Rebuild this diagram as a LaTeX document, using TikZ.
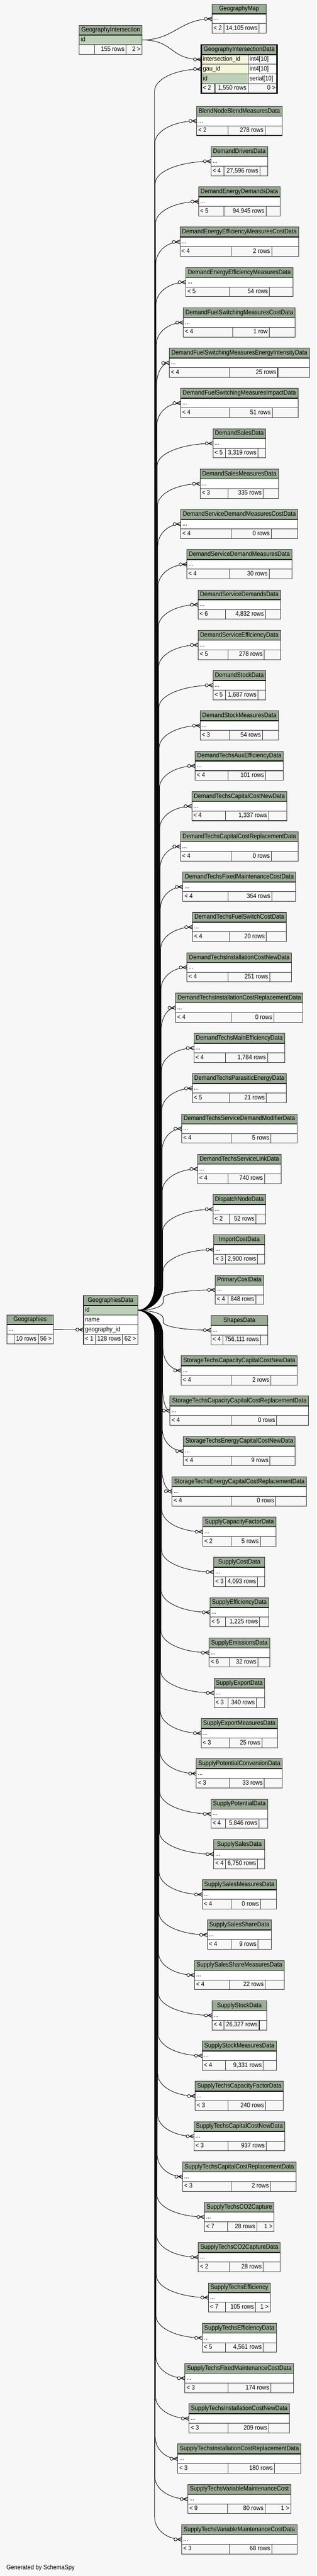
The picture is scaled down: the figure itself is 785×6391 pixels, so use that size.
\documentclass[tikz,border=0pt]{standalone}
\usepackage{fontspec}
\setmainfont{Liberation Sans}[FakeStretch=0.9]
\usetikzlibrary{decorations.markings}
\definecolor{pagebg}{HTML}{F7F7F7}
\definecolor{headbg}{HTML}{9BAB96}
\definecolor{keybg}{HTML}{BED1B8}
\definecolor{indexbg}{HTML}{F4F7DA}
\newcommand\tabfont{\fontsize{16}{19}\selectfont}
\tikzstyle{cell}=[draw=black!80, line width=1.3pt, outer sep=0pt, inner xsep=4pt, inner ysep=0pt, minimum height=24pt, text height=11.6pt, text depth=3.4pt, font=\tabfont, anchor=north west]
\tikzstyle{tabhead}=[cell, fill=headbg, minimum height=24.5pt]
\tikzstyle{tabbody}=[cell, fill=white]
\tikzstyle{tabkey}=[cell, fill=keybg]
\tikzstyle{tabindex}=[cell, fill=indexbg]
\tikzstyle{tabfoot}=[cell, fill=pagebg]
\tikzstyle{fk}=[line width=1.1pt, decoration={markings, mark=at position -0.3pt with {\draw[line width=1.1pt,fill=white] (-15pt,0pt) circle (3.8pt); \draw[line width=1.4pt] (-11pt,0pt) -- (0pt,4.5pt) (-11pt,0pt) -- (0pt,-4.5pt);}}, postaction=decorate]
\newcommand\textwd[2]{\setbox0=\hbox{\pgfinterruptpicture\normalfont\tabfont #2\endpgfinterruptpicture}\edef#1{\the\wd0}}
\newcommand\lcell[2]{\hbox to #1pt{#2\hfil}}
\newcommand\rcell[2]{\hbox to #1pt{\hfil #2}}
\newcommand\ccell[2]{\hbox to #1pt{\hfil #2\hfil}}
\newcommand\tabwidth[4]{%
  \textwd\hdw{#1}\textwd\lw{#2}\textwd\mw{#3}\textwd\rw{#4}%
  \pgfmathsetmacro\natL{\lw>0 ? \lw+9 : 18}%
  \pgfmathsetmacro\natM{\mw+9}%
  \pgfmathsetmacro\natR{\rw>0 ? \rw+9 : 18}%
  \pgfmathsetmacro\tabW{max(\hdw+10,\natL+\natM+\natR)}%
  \pgfmathsetmacro\tabX{\tabW-\natL-\natM-\natR}%
  \pgfmathsetmacro\cellL{\natL+\tabX/2-8}%
  \pgfmathsetmacro\cellM{\natM+\tabX/4-8}%
  \pgfmathsetmacro\cellR{\natR+\tabX/4-8}%
}
\newcommand\tabfooter[5]{%
  \node[tabfoot] (#1-l) at (#2.south west) {\lcell{\cellL}{#3}};
  \node[tabfoot] (#1-m) at (#1-l.north east) {\rcell{\cellM}{#4}};
  \node[tabfoot] (#1-r) at (#1-m.north east) {\rcell{\cellR}{#5}};
}
\newcommand\dbtablex[9]{%
  \tabwidth{#2}{#7}{#8}{#9}%
  \pgfmathsetmacro\tabLeft{#3-\tabW/2}\pgfmathsetmacro\twH{\tabW-8}%
  \node[tabhead] (#1) at (\tabLeft,#4) {\ccell{\twH}{#2}};
  \node[#6] (#1-b) at (#1.south west) {\lcell{\twH}{#5}};
  \tabfooter{#1}{#1-b}{#7}{#8}{#9}%
  \draw[line width=2pt] (#1.south west) -- (#1.south east);
}
\newcommand\geolink[3]{%
  \pgfmathsetmacro\lkdy{#2-3250.9}%
  \pgfmathsetmacro\lksg{\lkdy<0 ? -1 : 1}%
  \pgfmathsetmacro\lkad{abs(\lkdy)}%
  \pgfmathsetmacro\lkx{383+22*(1-\lkad/3100)}%
  \pgfmathsetmacro\lka{min(60,\lkad*0.4)}%
  \pgfmathsetmacro\lkb{min(55,\lkad*0.4)}%
  \pgfmathsetmacro\lkya{3250.9+\lksg*\lka}%
  \pgfmathsetmacro\lkyb{#2-\lksg*\lkb}%
  \pgfmathsetmacro\lkyac{3250.9+\lksg*\lka*0.45}%
  \pgfmathsetmacro\lkybc{#2-\lksg*\lkb*0.45}%
  \pgfmathsetmacro\lkxs{342.4+0.55*(\lkx-342.4)}%
  \pgfmathsetmacro\lkxt{#3-0.55*(#3-\lkx)}%
  \draw[fk] (gd-id.east) .. controls (\lkxs,3250.9) and (\lkx,\lkyac) .. (\lkx,\lkya) -- (\lkx,\lkyb) .. controls (\lkx,\lkybc) and (\lkxt,#2) .. (#1);
}
\newcommand\datatable[6]{%
  \dbtablex{#1}{#2}{593.5}{#3}{...}{tabbody}{#4}{#5}{#6}%
  \pgfmathsetmacro\tgtY{#3+36.5}\pgfmathsetmacro\tgtX{593.5-\tabW/2}%
  \geolink{#1-b.west}{\tgtY}{\tgtX}%
}

\begin{document}
\begin{tikzpicture}[x=1pt,y=-1pt,shift={(0,-3195.5)}]
  \fill[pagebg] (0,0) rectangle (785,6391);
  \useasboundingbox (0,0) rectangle (785,6391);

  \dbtablex{geo}{Geographies}{74.6}{3262}{...}{tabbody}{}{10 rows}{56 >}
  \tabwidth{GeographiesData}{< 1}{128 rows}{62 >}
  \pgfmathsetmacro\twH{\tabW-8}
  \node[tabhead] (gd) at ({274.2-\tabW/2},3214.4) {\ccell{\twH}{GeographiesData}};
  \node[tabkey] (gd-id) at (gd.south west) {\lcell{\twH}{id}};
  \node[tabbody] (gd-name) at (gd-id.south west) {\lcell{\twH}{name}};
  \node[tabbody] (gd-gid) at (gd-name.south west) {\lcell{\twH}{geography\_id}};
  \tabfooter{gd}{gd-gid}{< 1}{128 rows}{62 >}
  \draw[line width=2pt] (gd.south west) -- (gd.south east);
  \draw[fk] (geo-b.east) -- (gd-gid.west);

  \dbtablex{gi}{GeographyIntersection}{274.5}{62.7}{id}{tabkey}{}{155 rows}{2 >}
  \dbtablex{gmap}{GeographyMap}{593}{10.3}{...}{tabbody}{< 2}{14,105 rows}{}

  \tabwidth{GeographyIntersectionData}{< 2}{1,550 rows}{0 >}
  \pgfmathsetmacro\gidW{max(188,\tabW)}
  \pgfmathsetmacro\gidLeft{593-\gidW/2}
  \pgfmathsetmacro\twH{\gidW-8}
  \pgfmathsetmacro\twN{\gidW-80}
  \pgfmathsetmacro\twM{\gidW-114}
  \node[tabhead] (gid) at (\gidLeft,111) {\ccell{\twH}{GeographyIntersectionData}};
  \node[tabindex] (gid-ii) at (gid.south west) {\lcell{\twN}{intersection\_id}};
  \node[tabbody] (gid-iit) at (gid-ii.north east) {\lcell{64}{int4[10]}};
  \node[tabindex] (gid-gau) at (gid-ii.south west) {\lcell{\twN}{gau\_id}};
  \node[tabbody] (gid-gaut) at (gid-gau.north east) {\lcell{64}{int4[10]}};
  \node[tabkey] (gid-id) at (gid-gau.south west) {\lcell{\twN}{id}};
  \node[tabbody] (gid-idt) at (gid-id.north east) {\lcell{64}{serial[10]}};
  \node[tabfoot] (gid-l) at (gid-id.south west) {\lcell{26}{< 2}};
  \node[tabfoot] (gid-m) at (gid-l.north east) {\rcell{\twM}{1,550 rows}};
  \node[tabfoot] (gid-r) at (gid-m.north east) {\rcell{64}{0 >}};
  \draw[line width=2pt] (gid.south west) -- (gid.south east);
  \draw[line width=3pt] (gid.north west) rectangle (gid-r.south east);

  \draw[fk] (gi-b.east) .. controls +(80,0) and +(-80,0) .. (gmap-b.west);
  \draw[fk] (gi-b.east) .. controls +(80,0) and +(-80,0) .. (gid-ii.west);
  \geolink{gid-gau.west}{171.5}{\gidLeft}

  \datatable{blend}{BlendNodeBlendMeasuresData}{263.7}{< 2}{278 rows}{}
  \datatable{drivers}{DemandDriversData}{363.7}{< 4}{27,596 rows}{}
  \datatable{endem}{DemandEnergyDemandsData}{463.7}{< 5}{94,945 rows}{}
  \datatable{eemcost}{DemandEnergyEfficiencyMeasuresCostData}{563.7}{< 4}{2 rows}{}
  \datatable{eem}{DemandEnergyEfficiencyMeasuresData}{663.7}{< 5}{54 rows}{}
  \datatable{fsmcost}{DemandFuelSwitchingMeasuresCostData}{763.7}{< 4}{1 row}{}
  \datatable{fsmint}{DemandFuelSwitchingMeasuresEnergyIntensityData}{863.7}{< 4}{25 rows}{}
  \datatable{fsmimp}{DemandFuelSwitchingMeasuresImpactData}{963.7}{< 4}{51 rows}{}
  \datatable{dsales}{DemandSalesData}{1063.7}{< 5}{3,319 rows}{}
  \datatable{dsalesm}{DemandSalesMeasuresData}{1163.7}{< 3}{335 rows}{}
  \datatable{sdmcost}{DemandServiceDemandMeasuresCostData}{1263.7}{< 4}{0 rows}{}
  \datatable{sdm}{DemandServiceDemandMeasuresData}{1363.7}{< 4}{30 rows}{}
  \datatable{servdem}{DemandServiceDemandsData}{1463.7}{< 6}{4,832 rows}{}
  \datatable{serveff}{DemandServiceEfficiencyData}{1563.7}{< 5}{278 rows}{}
  \datatable{dstock}{DemandStockData}{1663.7}{< 5}{1,687 rows}{}
  \datatable{dstockm}{DemandStockMeasuresData}{1763.7}{< 3}{54 rows}{}
  \datatable{dtaux}{DemandTechsAuxEfficiencyData}{1863.7}{< 4}{101 rows}{}
  \datatable{dtcapnew}{DemandTechsCapitalCostNewData}{1963.7}{< 4}{1,337 rows}{}
  \datatable{dtcaprep}{DemandTechsCapitalCostReplacementData}{2063.7}{< 4}{0 rows}{}
  \datatable{dtfix}{DemandTechsFixedMaintenanceCostData}{2163.7}{< 4}{364 rows}{}
  \datatable{dtfuel}{DemandTechsFuelSwitchCostData}{2263.7}{< 4}{20 rows}{}
  \datatable{dtinstnew}{DemandTechsInstallationCostNewData}{2363.7}{< 4}{251 rows}{}
  \datatable{dtinstrep}{DemandTechsInstallationCostReplacementData}{2463.7}{< 4}{0 rows}{}
  \datatable{dtmain}{DemandTechsMainEfficiencyData}{2563.7}{< 4}{1,784 rows}{}
  \datatable{dtpara}{DemandTechsParasiticEnergyData}{2663.7}{< 5}{21 rows}{}
  \datatable{dtsdmod}{DemandTechsServiceDemandModifierData}{2763.7}{< 4}{5 rows}{}
  \datatable{dtlink}{DemandTechsServiceLinkData}{2863.7}{< 4}{740 rows}{}
  \datatable{dispatch}{DispatchNodeData}{2963.7}{< 2}{52 rows}{}
  \datatable{import}{ImportCostData}{3063.7}{< 3}{2,900 rows}{}
  \datatable{primary}{PrimaryCostData}{3163.7}{< 4}{848 rows}{}
  \datatable{shapes}{ShapesData}{3263.7}{< 4}{756,111 rows}{}
  \datatable{stocapnew}{StorageTechsCapacityCapitalCostNewData}{3363.7}{< 4}{2 rows}{}
  \datatable{stocaprep}{StorageTechsCapacityCapitalCostReplacementData}{3463.7}{< 4}{0 rows}{}
  \datatable{stoennew}{StorageTechsEnergyCapitalCostNewData}{3563.7}{< 4}{9 rows}{}
  \datatable{stoenrep}{StorageTechsEnergyCapitalCostReplacementData}{3663.7}{< 4}{0 rows}{}
  \datatable{capfac}{SupplyCapacityFactorData}{3763.7}{< 2}{5 rows}{}
  \datatable{scost}{SupplyCostData}{3863.7}{< 3}{4,093 rows}{}
  \datatable{seff}{SupplyEfficiencyData}{3963.7}{< 5}{1,225 rows}{}
  \datatable{semis}{SupplyEmissionsData}{4063.7}{< 6}{32 rows}{}
  \datatable{sexp}{SupplyExportData}{4163.7}{< 3}{340 rows}{}
  \datatable{sexpm}{SupplyExportMeasuresData}{4263.7}{< 3}{25 rows}{}
  \datatable{spotconv}{SupplyPotentialConversionData}{4363.7}{< 3}{33 rows}{}
  \datatable{spot}{SupplyPotentialData}{4463.7}{< 4}{5,846 rows}{}
  \datatable{ssales}{SupplySalesData}{4563.7}{< 4}{6,750 rows}{}
  \datatable{ssalesm}{SupplySalesMeasuresData}{4663.7}{< 4}{0 rows}{}
  \datatable{sshare}{SupplySalesShareData}{4763.7}{< 4}{9 rows}{}
  \datatable{ssharem}{SupplySalesShareMeasuresData}{4863.7}{< 4}{22 rows}{}
  \datatable{sstock}{SupplyStockData}{4963.7}{< 4}{26,327 rows}{}
  \datatable{sstockm}{SupplyStockMeasuresData}{5063.7}{< 4}{9,331 rows}{}
  \datatable{stcapfac}{SupplyTechsCapacityFactorData}{5163.7}{< 3}{240 rows}{}
  \datatable{stcapnew}{SupplyTechsCapitalCostNewData}{5263.7}{< 3}{937 rows}{}
  \datatable{stcaprep}{SupplyTechsCapitalCostReplacementData}{5363.7}{< 3}{2 rows}{}
  \datatable{stco2}{SupplyTechsCO2Capture}{5463.7}{< 7}{28 rows}{1 >}
  \datatable{stco2d}{SupplyTechsCO2CaptureData}{5563.7}{< 2}{28 rows}{}
  \datatable{steff}{SupplyTechsEfficiency}{5663.7}{< 7}{105 rows}{1 >}
  \datatable{steffd}{SupplyTechsEfficiencyData}{5763.7}{< 5}{4,561 rows}{}
  \datatable{stfix}{SupplyTechsFixedMaintenanceCostData}{5863.7}{< 3}{174 rows}{}
  \datatable{stinstnew}{SupplyTechsInstallationCostNewData}{5963.7}{< 3}{209 rows}{}
  \datatable{stinstrep}{SupplyTechsInstallationCostReplacementData}{6063.7}{< 3}{180 rows}{}
  \datatable{stvar}{SupplyTechsVariableMaintenanceCost}{6163.7}{< 9}{80 rows}{1 >}
  \datatable{stvard}{SupplyTechsVariableMaintenanceCostData}{6263.7}{< 3}{68 rows}{}

  \node[font=\tabfont, anchor=west, inner sep=0pt] (credit) at (16,6371) {Generated by SchemaSpy};
\end{tikzpicture}
\end{document}
